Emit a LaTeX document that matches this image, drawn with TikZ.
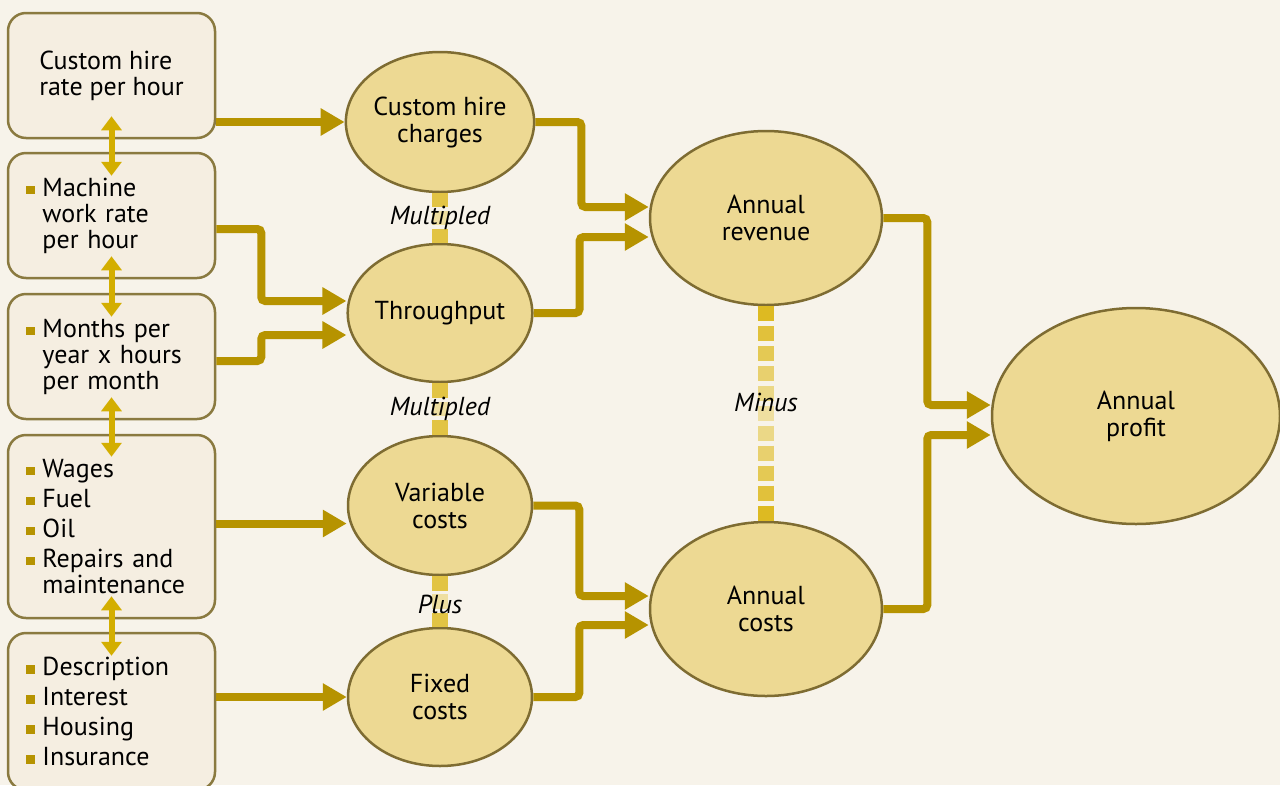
\documentclass[tikz,border=0pt]{standalone}
\usepackage{fontspec}
\setmainfont{PT Sans}
\usepackage{tikz}
\usetikzlibrary{calc,shapes.geometric,arrows.meta}
\usepackage{xcolor}
\definecolor{bg}{HTML}{F7F3EA}
\definecolor{boxfill}{HTML}{F5EEE1}
\definecolor{boxline}{HTML}{8A7A40}
\definecolor{ellfill}{HTML}{EDD993}
\definecolor{ellline}{HTML}{7E6C32}
\definecolor{flow}{HTML}{B69300}
\definecolor{both}{HTML}{D3AE00}
\definecolor{linkdark}{HTML}{DBB614}
\definecolor{linkpale}{HTML}{EFDFA0}

\newcommand{\bul}{\makebox[16pt][l]{\textcolor{flow}{\rule[2pt]{8.5pt}{8.5pt}}}}
\newcommand{\cont}{\hspace*{16pt}}
% dashed link between two ellipses, dark at the ends, pale in the middle
\newcommand{\goldlink}[4]{%
  \foreach \k in {1,...,#3}{%
    \pgfmathsetmacro{\dlen}{(1-(#3-1)*#4)/#3}
    \pgfmathsetmacro{\dashA}{(\k-1)*(\dlen+#4)}
    \pgfmathsetmacro{\dashB}{\dashA+\dlen}
    \pgfmathtruncatemacro{\pct}{100*abs(2*(\k-0.5)/#3-1)}
    \draw[linkdash, draw=linkdark!\pct!linkpale] ($(#1)!\dashA!(#2)$) -- ($(#1)!\dashB!(#2)$);
  }}

\tikzset{
  inbox/.style={draw=boxline, line width=2.5pt, fill=boxfill, rounded corners=18pt,
    minimum width=207pt, align=left, font=\fontsize{26}{26}\selectfont},
  listbox/.style={text width=170pt, inner xsep=18pt},
  stage/.style={ellipse, draw=ellline, line width=2.5pt, fill=ellfill, inner sep=0pt,
    align=center, font=\fontsize{26}{27}\selectfont},
  flowarrow/.style={draw=flow, line width=8pt, rounded corners=4pt,
    -{Triangle[length=24pt,width=26pt]}},
  linkarrow/.style={draw=both, line width=6pt,
    {Triangle[length=14pt,width=20pt]}-{Triangle[length=14pt,width=20pt]}},
  linkdash/.style={line width=16pt},
  oplabel/.style={font=\fontsize{26}{26}\selectfont\itshape, inner sep=0pt}
}

\begin{document}
\begin{tikzpicture}[x=1pt, y=-1pt]
  \fill[bg] (0,0) rectangle (1280,785);
  \useasboundingbox (0,0) rectangle (1280,785);

  % inputs
  \node[inbox, minimum height=125pt] (box1) at (111.5,75.5) {Custom hire\\rate per hour};
  \node[inbox, listbox, minimum height=125pt] (box2) at (111.5,215.5)
    {\bul Machine\\\cont work rate\\\cont per hour};
  \node[inbox, listbox, minimum height=125pt] (box3) at (111.5,356.5)
    {\bul Months per\\\cont year x hours\\\cont per month};
  \node[inbox, listbox, minimum height=183pt] (box4) at (111.5,526.5)
    {\bul Wages\\[4pt]\bul Fuel\\[4pt]\bul Oil\\[4pt]\bul Repairs and\\\cont maintenance};
  \node[inbox, listbox, minimum height=157pt] (box5) at (111.5,711.5)
    {\bul Description\\[4pt]\bul Interest\\[4pt]\bul Housing\\[4pt]\bul Insurance};

  % ellipses
  \node[stage, minimum width=184pt, minimum height=140pt] (e1) at (440,122) {Custom hire\\charges};
  \node[stage, minimum width=184pt, minimum height=138pt] (e2) at (440,313) {Throughput};
  \node[stage, minimum width=184pt, minimum height=139pt] (e3) at (440,505.5) {Variable\\costs};
  \node[stage, minimum width=184pt, minimum height=138pt] (e4) at (440,697) {Fixed\\costs};
  \node[stage, minimum width=232pt, minimum height=174pt] (e5) at (766,218) {Annual\\revenue};
  \node[stage, minimum width=232pt, minimum height=174pt] (e6) at (766,609) {Annual\\costs};
  \node[stage, minimum width=288pt, minimum height=216pt] (e7) at (1136,416) {Annual\\profit};

  % dashed links
  \goldlink{e1.south}{e2.north}{3}{0.077}
  \goldlink{e2.south}{e3.north}{3}{0.077}
  \goldlink{e3.south}{e4.north}{3}{0.077}
  \goldlink{e5.south}{e6.north}{11}{0.022}
  \node[oplabel] (op1) at ($(e1.south)!0.5!(e2.north)$) {Multipled};
  \node[oplabel] (op2) at ($(e2.south)!0.5!(e3.north)$) {Multipled};
  \node[oplabel] (op3) at ($(e3.south)!0.55!(e4.north)$) {Plus};
  \node[oplabel] (op4) at ($(e5.south)!0.45!(e6.north)$) {Minus};

  % flows
  \draw[flowarrow] (box1.east |- e1.west) -- (e1.west);
  \draw[flowarrow] ($(box2.east)+(0,13.5)$) -- ++(45,0) |- ($(e2.west)+(0,-12)$);
  \draw[flowarrow] ($(box3.east)+(0,4.5)$) -- ++(45,0) |- ($(e2.west)+(0,22)$);
  \draw[flowarrow] ($(box4.east)+(0,-3)$) -- ($(box4.east -| e3.west)+(0,-3)$);
  \draw[flowarrow] (box5.east |- e4.west) -- (e4.west);
  \draw[flowarrow] (e1.east) -- ++(46,0) |- ($(e5.west)+(0,-11)$);
  \draw[flowarrow] (e2.east) -- ++(46,0) |- ($(e5.west)+(0,19)$);
  \draw[flowarrow] (e3.east) -- ++(46,0) |- ($(e6.west)+(0,-13)$);
  \draw[flowarrow] (e4.east) -- ++(46,0) |- ($(e6.west)+(0,16)$);
  \draw[flowarrow] (e5.east) -- ++(44,0) |- ($(e7.west)+(0,-11)$);
  \draw[flowarrow] (e6.east) -- ++(44,0) |- ($(e7.west)+(0,19)$);

  % links between inputs
  \draw[linkarrow] ($(box1.south)+(0,-23)$) -- ($(box2.north)+(0,24)$);
  \draw[linkarrow] ($(box2.south)+(0,-23)$) -- ($(box3.north)+(0,24)$);
  \draw[linkarrow] ($(box3.south)+(0,-23)$) -- ($(box4.north)+(0,23)$);
  \draw[linkarrow] ($(box4.south)+(0,-23)$) -- ($(box5.north)+(0,24)$);
\end{tikzpicture}
\end{document}
